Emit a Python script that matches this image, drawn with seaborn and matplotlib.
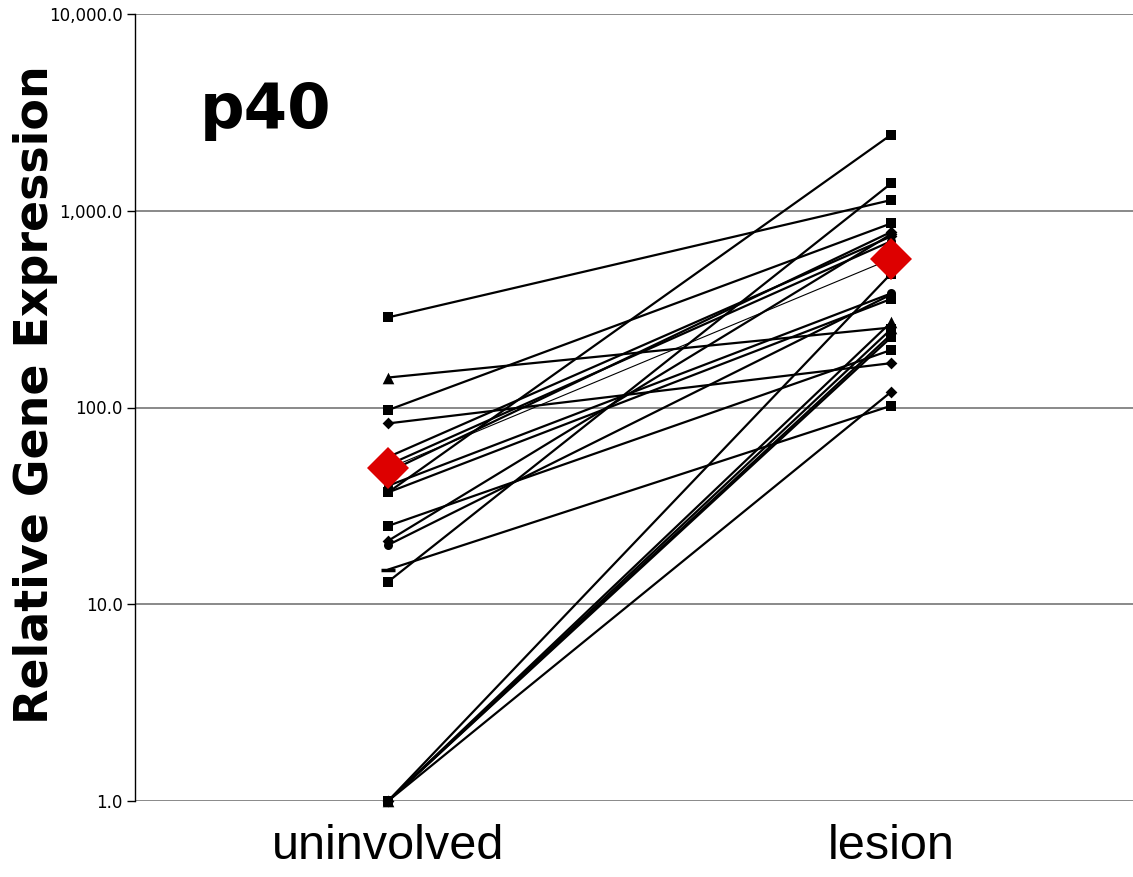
import matplotlib
matplotlib.use('Agg')
import matplotlib.pyplot as plt
import matplotlib.ticker as mticker
import numpy as np
import pandas as pd
import seaborn as sns

# %%
conditions = ['uninvolved', 'lesion']
uninvolved = [287, 142, 97, 83, 56, 51, 47, 40, 37, 37, 25, 21, 20, 15, 13, 1, 1, 1, 1, 1, 1]
lesion = [1133, 255, 862, 168, 740, 700, 780, 380, 2432, 356, 196, 760, 375, 102, 1376, 479, 271, 250, 235, 227, 120]
markers_uninvolved = ['s', '^', 's', 'D', 'D', 'o', 'D', 'o', 's', 's', 's', 'D', 'o', '_', 's', 's', '^', 's', 'o', 's', 'D']
markers_lesion = ['s', '^', 's', 'D', 'D', 'o', 'D', 'o', 's', 's', 's', 'D', 'o', 's', 's', 's', '^', 's', 'o', 's', 'D']
mean_values = [49, 569]

# %%
n = len(uninvolved)
df = pd.DataFrame({
    'subject': np.repeat(np.arange(n), 2),
    'pos': np.tile([0, 1], n),
    'value': np.ravel(np.column_stack([uninvolved, lesion])),
    'marker': np.ravel(np.column_stack([markers_uninvolved, markers_lesion])),
})

sns.set_style('white')
plt.rcParams['text.color'] = 'black'
plt.rcParams['xtick.color'] = 'black'
plt.rcParams['ytick.color'] = 'black'
fig = plt.figure(figsize=(11.33, 8.77), dpi=100)
ax = fig.add_axes([135/1133, 76/877, 998/1133, 787/877])

sns.lineplot(data=df, x='pos', y='value', units='subject', estimator=None,
             color='black', lw=1.6, ax=ax, clip_on=False, zorder=3)

sizes = {'s': 60, 'D': 36, '^': 70, 'o': 42, '_': 90}
for m, sub in df.groupby('marker'):
    kw = dict(linewidth=2.5, edgecolor='black') if m == '_' else dict(linewidth=0)
    sns.scatterplot(data=sub, x='pos', y='value', marker=m, s=sizes[m], color='black',
                    ax=ax, clip_on=False, zorder=4, legend=False, **kw)

mean_df = pd.DataFrame({'pos': [0, 1], 'value': mean_values})
sns.lineplot(data=mean_df, x='pos', y='value', color='black', lw=0.8, ax=ax,
             marker='D', markersize=21, markerfacecolor='#dd0000',
             markeredgewidth=0, clip_on=False, zorder=5)

ax.set_yscale('log')
ax.set_ylim(1, 10000)
ax.set_xlim(-0.503, 1.481)
ax.yaxis.set_major_locator(mticker.FixedLocator([1, 10, 100, 1000, 10000]))
ax.yaxis.set_minor_locator(mticker.NullLocator())
ax.yaxis.set_major_formatter(mticker.FuncFormatter(lambda v, p: f'{v:,.1f}'))
ax.grid(axis='y', color='#808080', lw=1.3)
ax.grid(axis='x', visible=False)
ax.set_axisbelow(True)
for s in ['top', 'right', 'bottom']:
    ax.spines[s].set_visible(False)
ax.spines['left'].set_color('black')
ax.spines['left'].set_linewidth(1)
ax.tick_params(axis='y', left=True, length=6, width=1, color='black', labelsize=12, pad=3)
ax.set_xticks([0, 1])
ax.set_xticklabels(conditions, fontsize=35, family='Liberation Sans')
ax.tick_params(axis='x', bottom=False, pad=13)
ax.set_xlabel('')
ax.set_ylabel('')

fig.text(0.031, 0.5496, 'Relative Gene Expression', rotation=90, ha='center', va='center',
         fontsize=33, fontweight='bold', color='black')
ax.text((200 - 135) / 998, 0.855, 'p40', transform=ax.transAxes, fontsize=45,
        fontweight='bold', ha='left', va='baseline', color='black')

fig.savefig('out.png', dpi=100)
